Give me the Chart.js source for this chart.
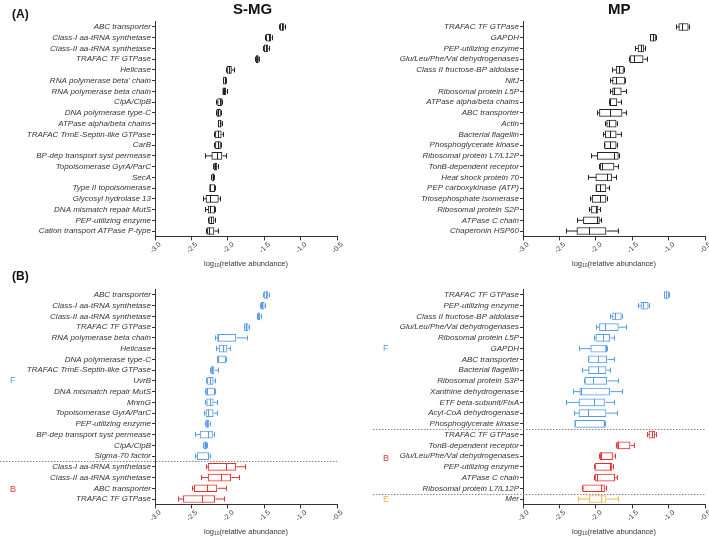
<!DOCTYPE html>
<html>
<head>
<meta charset="utf-8">
<script src="https://cdn.jsdelivr.net/npm/chart.js@4.4.1/dist/chart.umd.min.js"></script>
<style>
  body { margin: 0; background: #fff; font-family: "Liberation Sans", Arial, sans-serif; }
  #wrap { position: relative; width: 709px; height: 536px; overflow: hidden; }
  canvas { position: absolute; }
  .t { position: absolute; white-space: nowrap; line-height: 1; color: #111; }
  .ttl { font-size: 15px; font-weight: bold; }
  .pn { font-size: 12px; font-weight: bold; }
  .ax { font-size: 7.5px; color: #333; width: 200px; text-align: center; }
  .ax sub { font-size: 5px; vertical-align: -1px; }
  .grp { font-size: 9px; }
</style>
</head>
<body>
<div id="wrap">
  <canvas id="cSmg" width="350" height="262" style="left:0;top:0"></canvas>
  <canvas id="cMp" width="353" height="262" style="left:356px;top:0"></canvas>
  <canvas id="cSmgB" width="350" height="262" style="left:0;top:268px"></canvas>
  <canvas id="cMpB" width="353" height="262" style="left:356px;top:268px"></canvas>

  <div class="t pn" style="left:12px;top:8px">(A)</div>
  <div class="t pn" style="left:12px;top:270px">(B)</div>
  <div class="t ttl" style="left:233px;top:1px">S-MG</div>
  <div class="t ttl" style="left:608px;top:1px">MP</div>

  <div class="t ax" style="left:146px;top:260px">log<sub>10</sub>(relative abundance)</div>
  <div class="t ax" style="left:514px;top:260px">log<sub>10</sub>(relative abundance)</div>
  <div class="t ax" style="left:146px;top:528px">log<sub>10</sub>(relative abundance)</div>
  <div class="t ax" style="left:514px;top:528px">log<sub>10</sub>(relative abundance)</div>

  <div class="t grp" style="left:10px;top:376px;color:#5a9be6">F</div>
  <div class="t grp" style="left:10px;top:485px;color:#e8302c">B</div>
  <div class="t grp" style="left:383px;top:344px;color:#5a9be6">F</div>
  <div class="t grp" style="left:383px;top:454px;color:#e8302c">B</div>
  <div class="t grp" style="left:383px;top:495px;color:#f2b544">E</div>
</div>

<script>
// x axis ticks
const xTicks = [-3.0, -2.5, -2.0, -1.5, -1.0, -0.5];

// (A) S-MG : [min, q1, median, q3, max] of log10(relative abundance)
const smgLabels = ["ABC transporter", "Class-I aa-tRNA synthetase", "Class-II aa-tRNA synthetase",
  "TRAFAC TF GTPase", "Helicase", "RNA polymerase beta' chain", "RNA polymerase beta chain",
  "ClpA/ClpB", "DNA polymerase type-C", "ATPase alpha/beta chains", "TRAFAC TrmE-Septin-like GTPase",
  "CarB", "BP-dep transport syst permease", "Topoisomerase GyrA/ParC", "SecA", "Type II topoisomerase",
  "Glycosyl hydrolase 13", "DNA mismatch repair MutS", "PEP-utilizing enzyme", "Cation transport ATPase P-type"];
const smgStats = [
  [-1.29, -1.28, -1.26, -1.23, -1.21], [-1.49, -1.47, -1.44, -1.41, -1.39], [-1.51, -1.50, -1.48, -1.45, -1.43],
  [-1.62, -1.61, -1.60, -1.58, -1.57], [-2.03, -2.01, -1.98, -1.95, -1.92], [-2.06, -2.06, -2.04, -2.02, -2.02],
  [-2.07, -2.07, -2.05, -2.03, -2.01], [-2.16, -2.14, -2.11, -2.08, -2.08], [-2.16, -2.15, -2.14, -2.10, -2.09],
  [-2.14, -2.13, -2.11, -2.09, -2.08], [-2.19, -2.17, -2.13, -2.09, -2.07], [-2.19, -2.17, -2.14, -2.10, -2.09],
  [-2.31, -2.22, -2.15, -2.08, -2.03], [-2.20, -2.19, -2.17, -2.15, -2.14], [-2.23, -2.22, -2.21, -2.19, -2.19],
  [-2.25, -2.25, -2.24, -2.18, -2.18], [-2.34, -2.30, -2.25, -2.13, -2.11], [-2.31, -2.27, -2.25, -2.18, -2.18],
  [-2.27, -2.26, -2.23, -2.19, -2.18], [-2.30, -2.28, -2.26, -2.19, -2.13]
];

// (A) MP
const mpLabels = ["TRAFAC TF GTPase", "GAPDH", "PEP-utilizing enzyme", "Glu/Leu/Phe/Val dehydrogenases",
  "Class II fructose-BP aldolase", "NifJ", "Ribosomal protein L5P", "ATPase alpha/beta chains", "ABC transporter",
  "Actin", "Bacterial flagellin", "Phosphoglycerate kinase", "Ribosomal protein L7/L12P", "TonB-dependent receptor",
  "Heat shock protein 70", "PEP carboxykinase (ATP)", "Triosephosphate isomerase", "Ribosomal protein S2P",
  "ATPase C chain", "Chaperonin HSP60"];
const mpStats = [
  [-0.90, -0.86, -0.82, -0.73, -0.72], [-1.26, -1.25, -1.21, -1.18, -1.17], [-1.46, -1.42, -1.38, -1.34, -1.33],
  [-1.55, -1.53, -1.48, -1.35, -1.30], [-1.78, -1.72, -1.68, -1.62, -1.61], [-1.81, -1.77, -1.72, -1.60, -1.60],
  [-1.80, -1.77, -1.75, -1.65, -1.59], [-1.82, -1.81, -1.80, -1.71, -1.65], [-1.99, -1.95, -1.80, -1.64, -1.59],
  [-1.87, -1.85, -1.82, -1.72, -1.71], [-1.90, -1.87, -1.80, -1.72, -1.65], [-1.89, -1.88, -1.80, -1.72, -1.71],
  [-2.07, -1.98, -1.75, -1.69, -1.68], [-1.95, -1.94, -1.91, -1.75, -1.69], [-2.11, -2.00, -1.85, -1.78, -1.72],
  [-2.00, -2.00, -1.94, -1.86, -1.82], [-2.08, -2.05, -1.94, -1.86, -1.84], [-2.10, -2.06, -2.00, -1.97, -1.94],
  [-2.26, -2.17, -1.98, -1.95, -1.93], [-2.41, -2.26, -2.09, -1.86, -1.69]
];

// (B) S-MG, groups F then B
const smgBLabels = ["ABC transporter", "Class-I aa-tRNA synthetase", "Class-II aa-tRNA synthetase",
  "TRAFAC TF GTPase", "RNA polymerase beta chain", "Helicase", "DNA polymerase type-C",
  "TRAFAC TrmE-Septin-like GTPase", "UvrB", "DNA mismatch repair MutS", "MnmG", "Topoisomerase GyrA/ParC",
  "PEP-utilizing enzyme", "BP-dep transport syst permease", "ClpA/ClpB", "Sigma-70 factor",
  "Class-I aa-tRNA synthetase", "Class-II aa-tRNA synthetase", "ABC transporter", "TRAFAC TF GTPase"];
const smgBStats = [
  [-1.51, -1.50, -1.48, -1.45, -1.44], [-1.56, -1.54, -1.53, -1.50, -1.49], [-1.60, -1.59, -1.58, -1.56, -1.55],
  [-1.78, -1.77, -1.75, -1.72, -1.71], [-2.17, -2.14, -2.13, -1.89, -1.73], [-2.16, -2.12, -2.06, -2.01, -1.97],
  [-2.15, -2.14, -2.13, -2.03, -2.03], [-2.24, -2.23, -2.22, -2.19, -2.14], [-2.30, -2.28, -2.25, -2.20, -2.18],
  [-2.32, -2.30, -2.29, -2.18, -2.18], [-2.31, -2.29, -2.25, -2.20, -2.15], [-2.33, -2.30, -2.27, -2.20, -2.15],
  [-2.31, -2.30, -2.29, -2.26, -2.25], [-2.45, -2.38, -2.27, -2.21, -2.19], [-2.34, -2.33, -2.31, -2.29, -2.28],
  [-2.45, -2.42, -2.27, -2.26, -2.25],
  [-2.30, -2.27, -2.02, -1.89, -1.76], [-2.37, -2.27, -2.10, -1.96, -1.84], [-2.49, -2.46, -2.29, -2.15, -2.02],
  [-2.68, -2.61, -2.36, -2.18, -2.05]
];
const smgBGroupSizes = [16, 4];

// (B) MP, groups F, B, E
const mpBLabels = ["TRAFAC TF GTPase", "PEP-utilizing enzyme", "Class II fructose-BP aldolase",
  "Glu/Leu/Phe/Val dehydrogenases", "Ribosomal protein L5P", "GAPDH", "ABC transporter", "Bacterial flagellin",
  "Ribosomal protein S3P", "Xanthine dehydrogenase", "ETF beta-subunit/FixA", "Acyl-CoA dehydrogenase",
  "Phosphoglycerate kinase", "TRAFAC TF GTPase", "TonB-dependent receptor", "Glu/Leu/Phe/Val dehydrogenases",
  "PEP-utilizing enzyme", "ATPase C chain", "Ribosomal protein L7/L12P", "Mer"];
const mpBStats = [
  [-1.07, -1.06, -1.04, -1.00, -1.00], [-1.42, -1.38, -1.35, -1.28, -1.27], [-1.81, -1.77, -1.74, -1.65, -1.64],
  [-2.00, -1.95, -1.87, -1.69, -1.59], [-2.03, -2.00, -1.90, -1.81, -1.75], [-2.23, -2.07, -1.86, -1.86, -1.85],
  [-2.11, -2.10, -1.97, -1.85, -1.75], [-2.19, -2.10, -1.97, -1.86, -1.80], [-2.16, -2.15, -2.04, -1.85, -1.69],
  [-2.31, -2.22, -2.21, -1.81, -1.64], [-2.41, -2.23, -2.03, -1.88, -1.75], [-2.30, -2.23, -2.11, -1.86, -1.71],
  [-2.29, -2.29, -1.89, -1.88, -1.87],
  [-1.30, -1.27, -1.23, -1.19, -1.17], [-1.72, -1.71, -1.70, -1.53, -1.48], [-1.96, -1.94, -1.93, -1.77, -1.73],
  [-2.03, -2.01, -1.81, -1.78, -1.77], [-2.03, -2.01, -1.98, -1.74, -1.71], [-2.19, -2.18, -1.93, -1.88, -1.86],
  [-2.24, -2.09, -1.93, -1.86, -1.69]
];
const mpBGroupSizes = [13, 6, 1];

const FONT = '"Liberation Sans", Arial, sans-serif';
const AXIS = '#333';
const groupColors = ['#5a9be6', '#e8302c', '#f2b544'];

// row colours + separator positions from group sizes
function expandGroups(sizes) {
  const colors = [], seps = [];
  let n = 0;
  sizes.forEach((s, g) => {
    for (let i = 0; i < s; i++) colors.push(groupColors[g]);
    n += s;
    if (g < sizes.length - 1) seps.push(n);
  });
  return { colors, seps };
}

// whiskers, caps, median + dotted group separators
function boxExtras(stats, colors, seps, sepStart) {
  return {
    id: 'boxExtras',
    afterDatasetsDraw(chart) {
      const { ctx, scales: { x, y }, chartArea } = chart;
      ctx.save();
      ctx.lineWidth = 1;
      stats.forEach((s, i) => {
        const yc = y.getPixelForValue(i);
        const [mn, q1, md, q3, mx] = s.map(v => Math.round(x.getPixelForValue(v)) + 0.5);
        ctx.strokeStyle = colors[i];
        ctx.beginPath();
        ctx.moveTo(mn, yc); ctx.lineTo(q1, yc);
        ctx.moveTo(q3, yc); ctx.lineTo(mx, yc);
        ctx.moveTo(mn, yc - 2.5); ctx.lineTo(mn, yc + 2.5);
        ctx.moveTo(mx, yc - 2.5); ctx.lineTo(mx, yc + 2.5);
        ctx.moveTo(md, yc - 3.5); ctx.lineTo(md, yc + 3.5);
        ctx.stroke();
      });
      ctx.setLineDash([1.5, 1.5]);
      ctx.strokeStyle = '#888';
      seps.forEach(k => {
        const yy = Math.round((y.getPixelForValue(k - 1) + y.getPixelForValue(k)) / 2) + 0.5;
        ctx.beginPath();
        ctx.moveTo(sepStart, yy);
        ctx.lineTo(chartArea.right, yy);
        ctx.stroke();
      });
      ctx.restore();
    }
  };
}

function makeChart(id, labels, stats, colors, seps, yWidth, padRight, sepStart) {
  return new Chart(document.getElementById(id), {
    type: 'bar',
    data: {
      labels,
      datasets: [{
        data: stats.map(s => [s[1], s[3]]),
        backgroundColor: '#fff',
        borderColor: colors,
        borderWidth: 1,
        borderSkipped: false,
        barThickness: 7
      }]
    },
    options: {
      indexAxis: 'y',
      responsive: false,
      animation: false,
      layout: { padding: { top: 21.6, right: padRight, bottom: 0, left: 0 } },
      plugins: { legend: { display: false }, tooltip: { enabled: false } },
      scales: {
        x: {
          type: 'linear',
          min: xTicks[0],
          max: xTicks[xTicks.length - 1],
          afterBuildTicks: s => { s.ticks = xTicks.map(v => ({ value: v })); },
          ticks: {
            minRotation: 45, maxRotation: 45, labelOffset: 5, padding: 0,
            color: AXIS, font: { family: FONT, size: 7 },
            callback: v => v.toFixed(1)
          },
          grid: { drawOnChartArea: false, tickLength: 4, color: AXIS },
          border: { color: AXIS, width: 1 },
          afterFit: s => { s.height = 25.6; s.paddingLeft = 0; s.paddingRight = 0; }
        },
        y: {
          type: 'category',
          offset: true,
          ticks: { autoSkip: false, padding: 1, color: AXIS, font: { family: FONT, size: 8, style: 'italic' } },
          grid: { drawOnChartArea: false, offset: false, tickLength: 3, color: AXIS },
          border: { color: AXIS, width: 1 },
          afterFit: s => { s.width = yWidth; s.paddingTop = 0; s.paddingBottom = 0; }
        }
      }
    },
    plugins: [boxExtras(stats, colors, seps, sepStart)]
  });
}

const black = smgStats.map(() => '#222');
makeChart('cSmg', smgLabels, smgStats, black, [], 155, 13, 0);
makeChart('cMp', mpLabels, mpStats, black, [], 167, 4, 17);

const gl = expandGroups(smgBGroupSizes);
makeChart('cSmgB', smgBLabels, smgBStats, gl.colors, gl.seps, 155, 13, 0);
const gr = expandGroups(mpBGroupSizes);
makeChart('cMpB', mpBLabels, mpBStats, gr.colors, gr.seps, 167, 4, 17);
</script>
</body>
</html>
